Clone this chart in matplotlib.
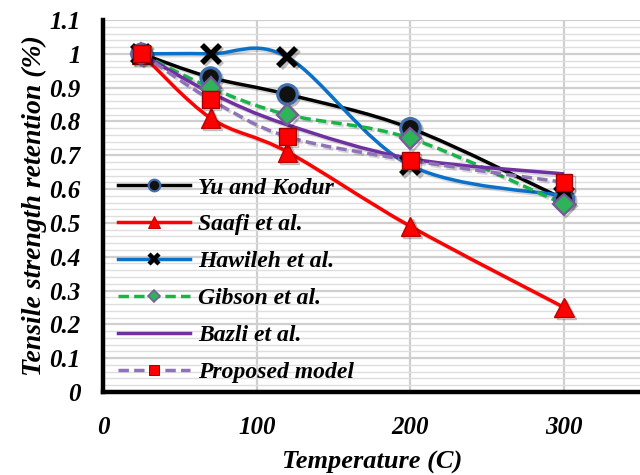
import numpy as np
import matplotlib
matplotlib.use("Agg")
import matplotlib.pyplot as plt
from matplotlib.path import Path
from matplotlib.patches import PathPatch
from matplotlib.lines import Line2D
import matplotlib.patheffects as pe

# ---- data ----
temperature = [25, 70, 120, 200, 300]
yu_kodur = [1.0, 0.93, 0.88, 0.78, 0.57]
saafi = [1.0, 0.81, 0.71, 0.49, 0.25]
hawileh = [1.0, 1.0, 0.99, 0.67, 0.58]
gibson = [1.0, 0.90, 0.82, 0.75, 0.555]
bazli = [1.0, 0.885, 0.79, 0.69, 0.645]
proposed = [1.0, 0.865, 0.755, 0.685, 0.62]

series_names = ["Yu and Kodur", "Saafi et al.", "Hawileh et al.",
                "Gibson et al.", "Bazli et al.", "Proposed model"]
x_ticks = [0, 100, 200, 300]
y_ticks = [0, 0.1, 0.2, 0.3, 0.4, 0.5, 0.6, 0.7, 0.8, 0.9, 1, 1.1]
y_tick_labels = ["0", "0.1", "0.2", "0.3", "0.4", "0.5", "0.6", "0.7",
                 "0.8", "0.9", "1", "1.1"]

FONT = dict(family="Liberation Serif", weight="bold", style="italic")

def smooth_path(xs, ys):
    """Excel-like smoothed line: Catmull-Rom as cubic Bezier segments."""
    pts = np.column_stack([xs, ys]).astype(float)
    n = len(pts)
    verts = [pts[0]]
    codes = [Path.MOVETO]
    for i in range(n - 1):
        p0 = pts[i - 1] if i > 0 else pts[i]
        p1 = pts[i]
        p2 = pts[i + 1]
        p3 = pts[i + 2] if i + 2 < n else pts[i + 1]
        c1 = p1 + (p2 - p0) / 6.0
        c2 = p2 - (p3 - p1) / 6.0
        verts += [c1, c2, p2]
        codes += [Path.CURVE4] * 3
    return Path(verts, codes)

fig = plt.figure(figsize=(6.4, 4.75), dpi=100)
ax = fig.add_axes([103 / 640, 1 - 392 / 475, 538 / 640, 372 / 475])
ax.set_xlim(0, 350)
ax.set_ylim(0, 1.1)

# grid
ax.set_yticks(y_ticks)
ax.set_yticks(np.arange(0, 1.1001, 0.02), minor=True)
ax.set_xticks(x_ticks)
ax.yaxis.grid(True, which="minor", color="#dedede", lw=1.0, zorder=0)
ax.yaxis.grid(True, which="major", color="#cfcfcf", lw=1.6, zorder=0)
ax.xaxis.grid(True, which="major", color="#cfcfcf", lw=1.6, zorder=0)
ax.set_axisbelow(True)

for s in ["top", "right"]:
    ax.spines[s].set_visible(False)
for s in ["left", "bottom"]:
    ax.spines[s].set_linewidth(3.2)
    ax.spines[s].set_color("black")
    ax.spines[s].set_zorder(10)

ax.tick_params(which="both", length=0)
ax.tick_params(axis="y", pad=16)
ax.tick_params(axis="x", pad=17)
ax.set_yticklabels(y_tick_labels, fontsize=18, **FONT)
ax.set_xticklabels([str(v) for v in x_ticks], fontsize=18, **FONT)

ax.set_xlabel("Temperature (C)", fontsize=19, labelpad=9, **FONT)
ax.set_ylabel("Tensile strength retention (%)", fontsize=20, labelpad=2, **FONT)

shadow = [pe.SimpleLineShadow(offset=(1.5, -1.5), alpha=0.25, shadow_color="black"), pe.Normal()]
line_shadow = [pe.SimpleLineShadow(offset=(1.5, -1.5), alpha=0.15, shadow_color="black"), pe.Normal()]

styles = [
    dict(data=yu_kodur, color="#000000", ls="-", marker="o", mfc="#111111", mec="#3f6fae", ms=14, mew=2.2),
    dict(data=saafi, color="#ff0000", ls="-", marker="^", mfc="#ff0000", mec="#c00000", ms=14, mew=1.0),
    dict(data=hawileh, color="#0a70c8", ls="-", marker="x", mfc="black", mec="black", ms=13, mew=4.0),
    dict(data=gibson, color="#19b34a", ls=(0, (3, 1.5)), marker="D", mfc="#2db35a", mec="#7a5a9a", ms=11, mew=1.6),
    dict(data=bazli, color="#7030a0", ls="-", marker=None, mfc="none", mec="none", ms=0, mew=0),
    dict(data=proposed, color="#8f73b8", ls=(0, (3, 1.5)), marker="s", mfc="#ff0000", mec="#a00000", ms=12, mew=1.0),
]

handles = []
for i, st in enumerate(styles):
    z = 3 + i
    patch = PathPatch(smooth_path(temperature, st["data"]), fill=False,
                      edgecolor=st["color"], lw=2.5, linestyle=st["ls"],
                      zorder=z, capstyle="butt")
    patch.set_path_effects(line_shadow)
    ax.add_patch(patch)
for i, st in enumerate(styles):
    if st["marker"] is not None:
        ax.plot(temperature, st["data"], ls="none", marker=st["marker"],
                mfc=st["mfc"], mec=st["mec"], ms=st["ms"], mew=st["mew"],
                zorder=20 + i, path_effects=shadow)
    handles.append(Line2D([], [], color=st["color"], lw=2.5, ls=st["ls"],
                          marker=st["marker"], mfc=st["mfc"], mec=st["mec"],
                          ms=st["ms"] * 0.6 if st["marker"] else 0,
                          mew=(st["mew"] * 0.8 if st["marker"] == "x" else st["mew"] * 0.7)))

leg = ax.legend(handles, series_names, loc="upper left",
                bbox_to_anchor=(0.028, 0.578), frameon=False,
                prop=dict(family="Liberation Serif", weight="bold", style="italic", size=17),
                handlelength=3.05, handletextpad=0.35, labelspacing=0.65,
                borderpad=0, borderaxespad=0)
leg.set_zorder(30)

fig.savefig("out.png", dpi=100)
